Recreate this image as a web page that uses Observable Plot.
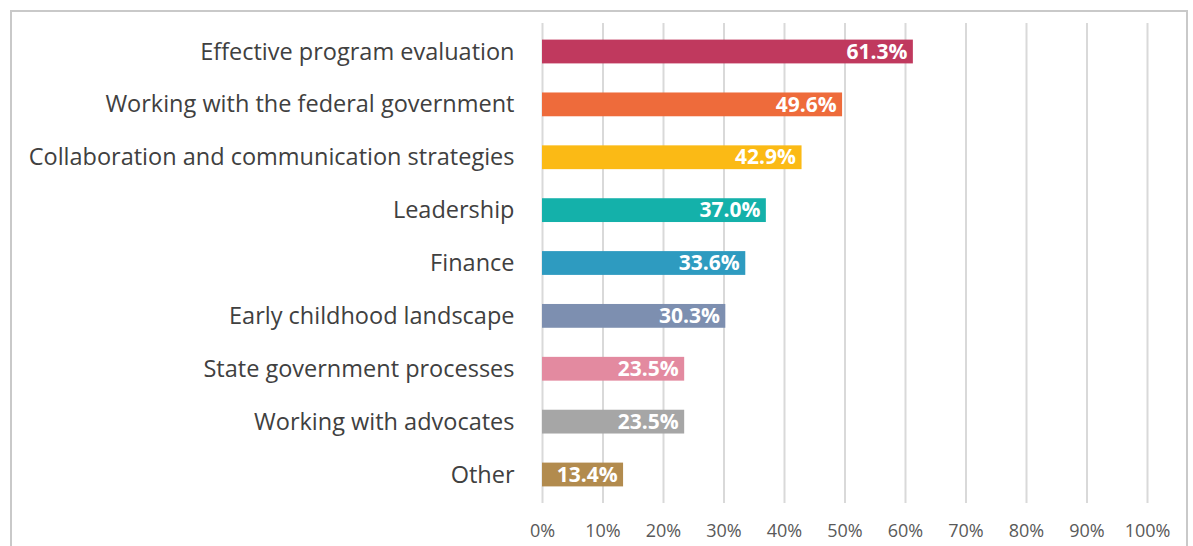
<!DOCTYPE html>
<html>
<head>
<meta charset="utf-8">
<script src="https://cdn.jsdelivr.net/npm/d3@7"></script>
<script src="https://cdn.jsdelivr.net/npm/@observablehq/plot@0.6"></script>
<style>
  html, body { margin: 0; padding: 0; background: #fff; }
  #wrap { position: relative; width: 1193px; height: 546px; overflow: hidden; }
  #border { position: absolute; left: 10px; top: 10px; width: 1178px; height: 600px; border: 2px solid #c9c9c9; box-sizing: border-box; pointer-events: none; }
  #chart { position: absolute; left: 0; top: 0; }
</style>
</head>
<body>
<div id="wrap"><div id="chart"></div><div id="border"></div></div>
<script>
const categories = [
  "Effective program evaluation",
  "Working with the federal government",
  "Collaboration and communication strategies",
  "Leadership",
  "Finance",
  "Early childhood landscape",
  "State government processes",
  "Working with advocates",
  "Other"
];
const values = [0.613, 0.496, 0.429, 0.370, 0.336, 0.303, 0.235, 0.235, 0.134];
const colors = ["#C0395E", "#EE6B3B", "#FBBA15", "#14B1AA", "#2E9BC0", "#7D8FB0", "#E38AA0", "#A6A6A6", "#B28B4E"];
const xTicks = [0, 0.1, 0.2, 0.3, 0.4, 0.5, 0.6, 0.7, 0.8, 0.9, 1.0];

const data = categories.map((c, i) => ({category: c, value: values[i], color: colors[i]}));

const chart = Plot.plot({
  width: 1193,
  height: 546,
  marginLeft: 542,
  marginRight: 46,
  marginTop: 23,
  marginBottom: 43,
  style: {fontFamily: "'Open Sans', sans-serif", background: "#fff"},
  x: {domain: [0, 1], ticks: xTicks, tickFormat: d => Math.round(d * 100) + "%"},
  y: {domain: categories, paddingInner: 0.55, paddingOuter: 0.314, round: false, label: null},
  marks: [
    Plot.ruleX(xTicks, {stroke: "#d9d9d9", strokeWidth: 2}),
    Plot.barX(data, {x: "value", y: "category", fill: "color"}),
    Plot.text(data, {x: "value", y: "category", text: d => (d.value * 100).toFixed(1) + "%", textAnchor: "end", dx: -6, fill: "white", fontWeight: "bold", fontSize: 21}),
    Plot.axisX({ticks: xTicks, tickFormat: d => Math.round(d * 100) + "%", tickSize: 0, tickPadding: 21, fontSize: 18, fill: "#595959", label: null}),
    Plot.axisY({tickSize: 0, tickPadding: 28, fontSize: 23.5, fill: "#404040", label: null})
  ]
});
document.getElementById("chart").appendChild(chart);
</script>
</body>
</html>
